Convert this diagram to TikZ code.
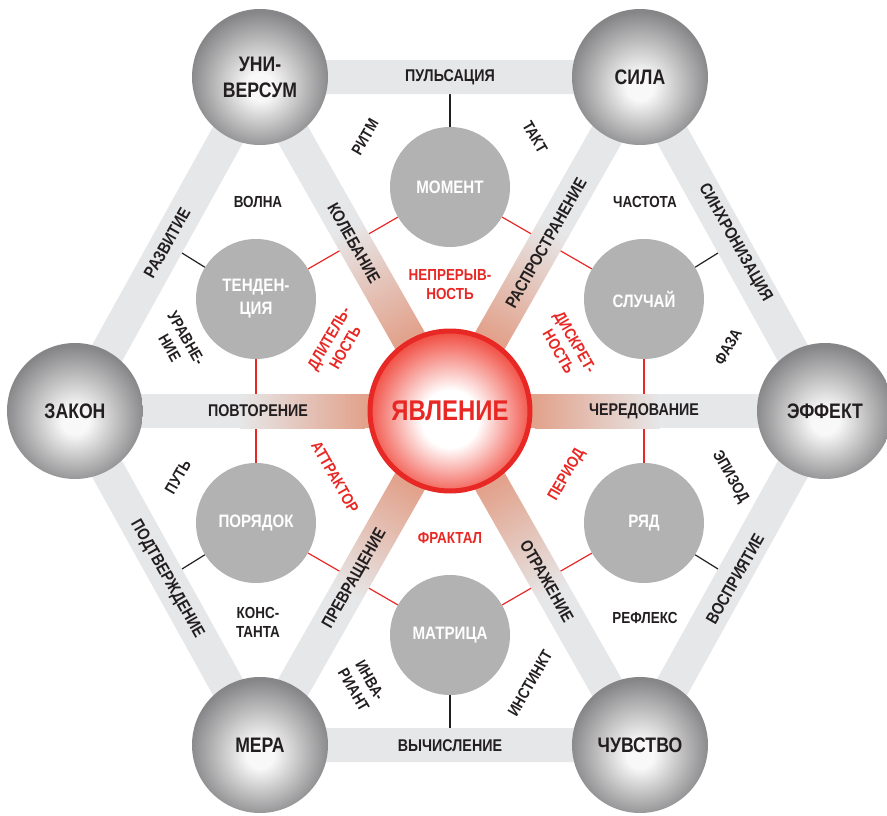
\documentclass[tikz,border=0pt]{standalone}
\usepackage{fontspec}
\newfontfamily\lbl{Liberation Sans}[FakeStretch=0.84]
\definecolor{ink}{RGB}{35,31,32}
\definecolor{jred}{RGB}{232,40,36}
\definecolor{bandgray}{RGB}{230,231,232}
\definecolor{spokered}{RGB}{226,162,140}
\definecolor{innergray}{RGB}{178,178,178}
\definecolor{spherelight}{RGB}{248,248,248}
\definecolor{spheredark}{RGB}{134,134,136}
\definecolor{rededge}{RGB}{240,66,54}
\pgfdeclareradialshading{sphereshade}{\pgfpoint{0bp}{-4bp}}{color(0bp)=(spherelight); color(5bp)=(spherelight); color(26bp)=(spheredark); color(50bp)=(spheredark)}
\pgfdeclareradialshading{redshade}{\pgfpoint{0bp}{-3bp}}{color(0bp)=(white); color(9bp)=(white); color(27bp)=(rededge); color(50bp)=(rededge)}

\begin{document}
\begin{tikzpicture}[x=1pt, y=1pt,
    outerball/.style={circle, inner sep=0pt, minimum size=136pt, shade, shading=sphereshade,
        align=center, text=ink, font=\lbl\bfseries\fontsize{21}{26}\selectfont},
    innerball/.style={circle, inner sep=0pt, minimum size=120pt, fill=innergray,
        align=center, text=white, font=\lbl\bfseries\fontsize{18}{23}\selectfont},
    bandlabel/.style={text=ink, font=\lbl\bfseries\fontsize{17}{20}\selectfont},
    notelabel/.style={text=ink, align=center, font=\lbl\bfseries\fontsize{16}{19}\selectfont},
    redlabel/.style={notelabel, text=jred},
    band/.style={draw=bandgray, line width=34pt, line join=round},
    redlink/.style={draw=jred, line width=1.2pt},
    blacklink/.style={draw=ink, line width=1.2pt}]
    \useasboundingbox (-450,-404) rectangle (437,411);

    \coordinate (vz) at (-375,0);
    \coordinate (vu) at (-190,334);
    \coordinate (vs) at (190,334);
    \coordinate (ve) at (375,0);
    \coordinate (vc) at (190,-334);
    \coordinate (vm) at (-190,-334);

    \coordinate (etop) at (0,334);
    \coordinate (eul) at (-282.5,167);
    \coordinate (eur) at (282.5,167);
    \coordinate (ell) at (-282.5,-167);
    \coordinate (elr) at (282.5,-167);
    \coordinate (ebot) at (0,-334);

    \node[innerball] (moment) at (90:224) {МОМЕНТ};
    \node[innerball] (tend) at (150:224) {ТЕНДЕН-\\ЦИЯ};
    \node[innerball] (sluch) at (30:224) {СЛУЧАЙ};
    \node[innerball] (poryad) at (210:224) {ПОРЯДОК};
    \node[innerball] (ryad) at (330:224) {РЯД};
    \node[innerball] (matr) at (270:224) {МАТРИЦА};

    \draw[redlink] (moment) -- (tend);
    \draw[redlink] (moment) -- (sluch);
    \draw[redlink] (tend) -- (poryad);
    \draw[redlink] (sluch) -- (ryad);
    \draw[redlink] (poryad) -- (matr);
    \draw[redlink] (ryad) -- (matr);

    \draw[blacklink] (moment) -- (etop);
    \draw[blacklink] (tend) -- (eul);
    \draw[blacklink] (sluch) -- (eur);
    \draw[blacklink] (poryad) -- (ell);
    \draw[blacklink] (ryad) -- (elr);
    \draw[blacklink] (matr) -- (ebot);

    \draw[band] (vz) -- (vu) -- (vs) -- (ve) -- (vc) -- (vm) -- cycle;

    \foreach \a/\l in {0/375, 60.4/384, 119.6/384, 180/375, 240.4/384, 299.6/384} {
        \begin{scope}[transform canvas={rotate=\a}]
            \fill[spokered] (0,-17) rectangle (86,17);
            \shade[left color=spokered, right color=bandgray] (85,-17) rectangle (210,17);
            \fill[bandgray] (209,-17) rectangle (\l,17);
        \end{scope}
    }

    \node[outerball] (zakon) at (vz) {ЗАКОН};
    \node[outerball] (univ) at (vu) {УНИ-\\ВЕРСУМ};
    \node[outerball] (sila) at (vs) {СИЛА};
    \node[outerball] (effekt) at (ve) {ЭФФЕКТ};
    \node[outerball] (chuvstvo) at (vc) {ЧУВСТВО};
    \node[outerball] (mera) at (vm) {МЕРА};

    \node[circle, inner sep=0pt, minimum size=160pt, shade, shading=redshade,
        draw=jred, line width=5pt, text=jred,
        font=\lbl\bfseries\fontsize{28.5}{32}\selectfont] (yav) at (0,0) {ЯВЛЕНИЕ};

    \node[bandlabel] (pulsacia) at (0,334) {ПУЛЬСАЦИЯ};
    \node[bandlabel] (vychisl) at (0,-335) {ВЫЧИСЛЕНИЕ};
    \node[bandlabel, rotate=60.4] (razvitie) at (-283,168) {РАЗВИТИЕ};
    \node[bandlabel, rotate=-60.4] (sinhron) at (285,168) {СИНХРОНИЗАЦИЯ};
    \node[bandlabel, rotate=-60.4] (podtv) at (-283,-168) {ПОДТВЕРЖДЕНИЕ};
    \node[bandlabel, rotate=60.4] (vospr) at (285,-168) {ВОСПРИЯТИЕ};

    \node[bandlabel, rotate=-60.4] (koleb) at (-96,168) {КОЛЕБАНИЕ};
    \node[bandlabel, rotate=60.4] (raspr) at (96,168) {РАСПРОСТРАНЕНИЕ};
    \node[bandlabel] (povtor) at (-192,0) {ПОВТОРЕНИЕ};
    \node[bandlabel] (chered) at (194,0) {ЧЕРЕДОВАНИЕ};
    \node[bandlabel, rotate=60.4] (prevr) at (-95,-168) {ПРЕВРАЩЕНИЕ};
    \node[bandlabel, rotate=-60.4] (otraz) at (97,-170) {ОТРАЖЕНИЕ};

    \node[notelabel, rotate=60] (ritm) at (-85,274) {РИТМ};
    \node[notelabel, rotate=-60] (takt) at (85,274) {ТАКТ};
    \node[notelabel] (volna) at (-192,209) {ВОЛНА};
    \node[notelabel] (chastota) at (195,209) {ЧАСТОТА};
    \node[notelabel, rotate=-60] (uravn) at (-272,68) {УРАВНЕ-\\НИЕ};
    \node[notelabel, rotate=60] (faza) at (278,64) {ФАЗА};
    \node[notelabel, rotate=60] (put) at (-272,-66) {ПУТЬ};
    \node[notelabel, rotate=-60] (epizod) at (280,-66) {ЭПИЗОД};
    \node[notelabel] (konst) at (-192,-211) {КОНС-\\ТАНТА};
    \node[notelabel] (refleks) at (195,-207) {РЕФЛЕКС};
    \node[notelabel, rotate=-60] (invar) at (-88,-274) {ИНВА-\\РИАНТ};
    \node[notelabel, rotate=60] (instinkt) at (80,-272) {ИНСТИНКТ};

    \node[redlabel] (nepr) at (0,126) {НЕПРЕРЫВ-\\НОСТЬ};
    \node[redlabel, rotate=60] (dlit) at (-113,68) {ДЛИТЕЛЬ-\\НОСТЬ};
    \node[redlabel, rotate=-60] (diskr) at (117,64) {ДИСКРЕТ-\\НОСТЬ};
    \node[redlabel, rotate=-60] (attr) at (-115,-66) {АТТРАКТОР};
    \node[redlabel, rotate=60] (period) at (117,-64) {ПЕРИОД};
    \node[redlabel] (fraktal) at (0,-127) {ФРАКТАЛ};
\end{tikzpicture}
\end{document}
